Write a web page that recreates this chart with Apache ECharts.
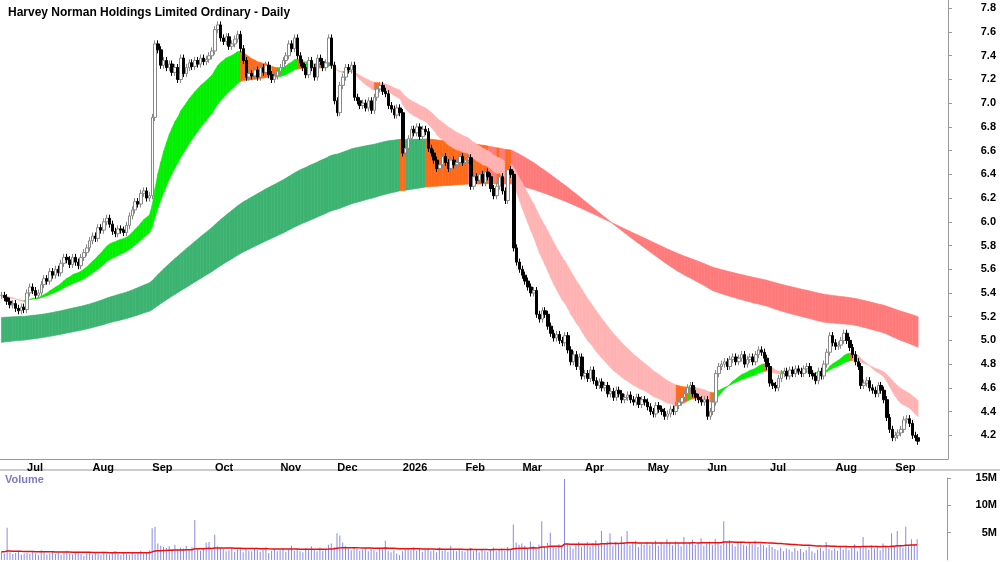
<!DOCTYPE html>
<html><head><meta charset="utf-8">
<script src="https://cdn.jsdelivr.net/npm/echarts@6/dist/echarts.min.js"></script>
<style>html,body{margin:0;padding:0;background:#fff}#main{width:1000px;height:562px}</style>
</head><body><div id="main"></div>
<script>
// closing prices by month
const closeJun25 = [5.38,5.36,5.33,5.30,5.31,5.27,5.25,5.28,5.26];
const closeJul25 = [5.40,5.45,5.42,5.38,5.40,5.47,5.52,5.50,5.58,5.55,5.60,5.57,5.65,5.70,5.68,5.64,5.70,5.66,5.63,5.70,5.74,5.78,5.84];
const closeAug25 = [5.88,5.86,5.95,5.93,6.00,6.03,5.98,5.92,5.90,5.94,5.93,5.91,5.97,6.05,6.10,6.17,6.15,6.24,6.26,6.20,6.22];
const closeSep25 = [6.88,7.50,7.45,7.32,7.36,7.30,7.33,7.26,7.30,7.20,7.38,7.25,7.30,7.34,7.31,7.36,7.33,7.38,7.35,7.37,7.40,7.44];
const closeOct25 = [7.62,7.66,7.55,7.52,7.56,7.48,7.50,7.54,7.58,7.46,7.36,7.22,7.25,7.23,7.28,7.22,7.30,7.26,7.32,7.24,7.20,7.23,7.27];
const closeNov25 = [7.30,7.36,7.40,7.50,7.46,7.55,7.40,7.34,7.30,7.24,7.36,7.30,7.22,7.38,7.35,7.30,7.34,7.55,7.32,7.02];
const closeDec25 = [6.92,7.15,7.22,7.30,7.28,7.32,7.05,7.02,6.98,7.00,6.96,7.02,6.94,7.05,7.12,7.15,7.10,7.08,6.98,6.95,6.90,6.96,6.92];
const closeJan26 = [6.58,6.62,6.70,6.78,6.75,6.80,6.72,6.78,6.76,6.62,6.58,6.52,6.45,6.48,6.55,6.50,6.45,6.52,6.48,6.50,6.55,6.50];
const closeFeb26 = [6.52,6.54,6.30,6.38,6.35,6.40,6.33,6.42,6.38,6.28,6.22,6.30,6.38,6.26,6.18,6.44,6.40,5.78,5.66,5.60];
const closeMar26 = [5.55,5.50,5.45,5.40,5.42,5.22,5.18,5.25,5.22,5.12,5.06,5.02,5.05,5.00,4.98,5.04,4.92,4.82,4.88,4.78,4.86,4.70];
const closeApr26 = [4.72,4.68,4.75,4.66,4.62,4.65,4.60,4.62,4.55,4.57,4.52,4.58,4.55,4.50,4.52,4.54,4.50,4.48,4.52,4.46,4.50,4.48];
const closeMay26 = [4.44,4.40,4.38,4.45,4.42,4.40,4.36,4.38,4.42,4.40,4.45,4.48,4.52,4.55,4.60,4.62,4.55,4.52,4.50,4.48,4.50];
const closeJun26 = [4.36,4.40,4.48,4.72,4.78,4.80,4.82,4.78,4.84,4.86,4.82,4.85,4.88,4.80,4.84,4.86,4.82,4.88,4.92,4.90,4.85,4.78];
const closeJul26 = [4.64,4.62,4.60,4.68,4.72,4.74,4.70,4.75,4.72,4.76,4.74,4.72,4.76,4.78,4.72,4.70,4.66,4.74,4.70,4.80,4.90,5.04,4.98];
const closeAug26 = [4.95,4.96,5.00,5.06,5.00,4.94,4.88,4.82,4.78,4.62,4.64,4.66,4.60,4.58,4.55,4.62,4.58,4.50,4.35,4.25,4.18];
const closeSep26 = [4.20,4.22,4.25,4.33,4.34,4.30,4.20,4.18,4.15];

// volume in millions
const volJun25 = [1.5,1.2,5.9,1.4,1.1,1.3,1.6,1.0,1.2];
const volJul25 = [1.3,1.1,1.5,1.2,0.9,1.8,1.4,1.0,1.2,1.6,1.1,1.3,0.9,1.4,1.7,1.2,1.0,1.3,1.5,1.1,0.8,1.2,1.4];
const volAug25 = [1.0,1.3,1.1,0.9,1.5,1.2,1.0,1.4,1.6,1.1,0.9,1.3,1.2,1.0,1.5,1.1,1.3,1.7,1.2,1.4,1.8];
const volSep25 = [5.8,6.1,3.0,2.6,2.4,2.2,2.5,2.0,2.8,1.9,2.3,2.1,2.6,1.8,2.4,7.3,2.0,1.7,2.2,3.2,3.3,1.9];
const volOct25 = [4.6,2.5,2.2,2.0,1.6,1.8,2.3,1.5,1.9,2.1,1.4,2.0,1.7,1.6,2.2,1.8,1.5,1.9,2.4,1.3,1.7,2.0,1.6];
const volNov25 = [1.8,2.1,1.5,1.9,2.6,1.7,2.0,1.6,1.4,2.2,1.8,2.5,1.9,1.6,2.3,1.7,2.0,2.8,3.0,2.4];
const volDec25 = [4.9,4.5,3.2,2.5,2.1,1.8,2.4,2.0,1.7,1.9,2.2,1.6,2.0,1.8,1.5,2.3,1.9,3.5,1.6,1.4,1.8,1.2,0.9];
const volJan26 = [1.6,1.9,2.2,1.8,2.4,1.7,2.0,1.5,1.9,2.1,1.6,1.8,1.4,2.3,1.7,1.9,1.5,2.6,1.8,1.6,2.0,1.7];
const volFeb26 = [1.5,1.8,2.2,1.6,1.9,1.4,2.0,1.7,1.5,1.8,2.3,1.6,1.9,2.1,1.7,2.4,2.0,6.5,3.2,2.8];
const volMar26 = [3.0,2.6,2.2,3.4,2.5,2.0,2.8,7.1,2.4,3.1,5.0,2.6,2.2,2.9,2.4,14.8,3.0,2.5,2.1,2.7,3.3,2.4];
const volApr26 = [2.9,3.3,2.5,3.1,3.6,2.8,5.3,3.0,3.4,4.9,2.6,3.2,2.9,4.3,3.3,5.3,2.7,3.1,3.5,2.4,3.0,2.8];
const volMay26 = [3.3,2.7,3.0,3.5,2.6,3.2,2.9,3.8,3.1,2.7,3.4,3.0,2.5,4.2,2.9,3.3,3.7,2.8,3.1,4.0,2.6];
const volJun26 = [3.0,3.4,2.8,3.9,3.2,2.7,7.1,3.3,3.6,2.9,2.5,3.1,3.4,2.8,2.6,3.2,2.9,3.5,2.4,3.0,2.7,2.3];
const volJul26 = [2.8,2.4,2.0,1.8,2.3,1.6,2.1,1.9,1.5,2.2,1.7,2.0,1.4,1.8,2.5,1.6,1.3,1.9,2.2,1.7,3.3,2.0,1.8];
const volAug26 = [2.1,1.7,2.4,1.9,2.6,1.8,2.2,2.9,1.6,2.3,4.2,2.5,1.9,2.7,2.1,2.4,1.8,3.0,2.6,2.2,4.9];
const volSep26 = [2.4,5.3,2.8,2.2,6.1,2.5,3.8,2.9,3.8];

const monthNames = ['Jan','Feb','Mar','Apr','May','Jun','Jul','Aug','Sep','Oct','Nov','Dec'];

const closes = [].concat(closeJun25,closeJul25,closeAug25,closeSep25,closeOct25,closeNov25,closeDec25,
  closeJan26,closeFeb26,closeMar26,closeApr26,closeMay26,closeJun26,closeJul26,closeAug26,closeSep26);
const volumes = [].concat(volJun25,volJul25,volAug25,volSep25,volOct25,volNov25,volDec25,
  volJan26,volFeb26,volMar26,volApr26,volMay26,volJun26,volJul26,volAug26,volSep26);

// trading days (weekdays) from 18 Jun 2025, a few empty days after the last bar
const dates = [];
let d = new Date(Date.UTC(2025,5,18));
while (dates.length < closes.length + 10) {
  const wd = d.getUTCDay();
  if (wd !== 0 && wd !== 6) dates.push(d.toISOString().slice(0,10));
  d = new Date(d.getTime() + 86400000);
}
const firstOfMonth = dates.map((s,i) => i === 0 ? false : s.slice(5,7) !== dates[i-1].slice(5,7));

const candles = closes.map((c,i) => {
  const o = i === 0 ? c : closes[i-1];
  return [o, c, Math.min(o,c) - 0.03, Math.max(o,c) + 0.03];
});

function ema(arr, n, seed) {
  const k = 2/(n+1); let e = seed;
  return arr.map(v => (e = e + k*(v-e)));
}
const fastA = ema(closes, 18, 5.38), fastB = ema(closes, 36, 5.36);
const slowA = ema(closes, 150, 5.19), slowB = ema(closes, 250, 4.98);

function bandSegs(a, b, cols) {
  const out = [];
  for (let i = 0; i < a.length - 1; i++) {
    const ua = a[i+1] > a[i], ub = b[i+1] > b[i];
    const col = ua && ub ? cols[0] : (!ua && !ub ? cols[2] : cols[1]);
    out.push({value:[i, a[i], b[i], a[i+1], b[i+1]], itemStyle:{color:col}});
  }
  return out;
}
const fastSegs = bandSegs(fastA, fastB, ['#00f000','#ff6a1a','#ffb3b3']);
const slowSegs = bandSegs(slowA, slowB, ['#3cb371','#ff6a1a','#ff7b7b']);

function renderBand(params, api) {
  const i = api.value(0);
  const p1 = api.coord([i, api.value(1)]), p2 = api.coord([i+1, api.value(3)]);
  const p3 = api.coord([i+1, api.value(4)]), p4 = api.coord([i, api.value(2)]);
  return {type:'polygon', shape:{points:[p1,p2,p3,p4]},
    style:{fill:api.visual('color'), stroke:api.visual('color'), lineWidth:0.6}};
}

// volume moving average, started from the level shown at the left edge
const volMA = ema(volumes, 60, 1.5).map(v => +v.toFixed(3));

const font = 'Liberation Sans';
const myChart = echarts.init(document.getElementById('main'));
myChart.setOption({
  animation:false,
  textStyle:{fontFamily:font},
  title:{text:'Harvey Norman Holdings Limited Ordinary - Daily', left:3, top:2,
    textStyle:{fontSize:12, fontWeight:'bold', color:'#000', fontFamily:font}},
  graphic:[
    {type:'text', left:5, top:474, style:{text:'Volume', fill:'#7b7bc8', font:'bold 11px '+font}},
    {type:'line', shape:{x1:0,y1:470,x2:1000,y2:470}, style:{stroke:'#999', lineWidth:1}}
  ],
  grid:[
    {left:0, right:52, top:0, height:459},
    {left:0, right:52, top:478, bottom:2}
  ],
  xAxis:[
    {type:'category', gridIndex:0, data:dates,
     axisLine:{lineStyle:{color:'#999'}},
     axisTick:{interval:(i)=>firstOfMonth[i], length:4, lineStyle:{color:'#666'}},
     axisLabel:{interval:(i)=>firstOfMonth[i], align:'left', margin:3, fontSize:11, fontWeight:'bold', color:'#000',
       formatter:(s)=>s.slice(5,7)==='01' ? s.slice(0,4) : monthNames[+s.slice(5,7)-1]},
     splitLine:{show:false}},
    {type:'category', gridIndex:1, data:dates, axisLine:{show:false}, axisTick:{show:false}, axisLabel:{show:false}}
  ],
  yAxis:[
    {type:'value', gridIndex:0, position:'right', min:4.0, max:7.87, interval:0.2,
     axisLine:{show:true, lineStyle:{color:'#999'}}, axisTick:{show:true, length:4, lineStyle:{color:'#999'}},
     axisLabel:{showMinLabel:false, showMaxLabel:false, fontSize:11, fontWeight:'bold', color:'#000', margin:48, align:'right',
       formatter:(v)=>v.toFixed(1)},
     splitLine:{show:false}},
    {type:'value', gridIndex:1, position:'right', min:0, max:15, interval:5,
     axisLine:{show:true, lineStyle:{color:'#999'}}, axisTick:{show:true, length:4, lineStyle:{color:'#999'}},
     axisLabel:{showMinLabel:false, fontSize:11, fontWeight:'bold', color:'#000', margin:50, align:'right', formatter:(v)=>v+'M'},
     splitLine:{show:false}}
  ],
  series:[
    {type:'custom', xAxisIndex:0, yAxisIndex:0, renderItem:renderBand, data:slowSegs, z:1, encode:{x:0,y:[1,2,3,4]}},
    {type:'custom', xAxisIndex:0, yAxisIndex:0, renderItem:renderBand, data:fastSegs, z:2, encode:{x:0,y:[1,2,3,4]}},
    {type:'candlestick', xAxisIndex:0, yAxisIndex:0, data:candles, barWidth:3, z:5,
     itemStyle:{color:'#ffffff', color0:'#000000', borderColor:'#888888', borderColor0:'#000000', borderWidth:1}},
    {type:'bar', xAxisIndex:1, yAxisIndex:1, data:volumes, barWidth:1, itemStyle:{color:'#8a8ae6'}},
    {type:'line', xAxisIndex:1, yAxisIndex:1, data:volMA, symbol:'none', lineStyle:{color:'#e81010', width:1.5}}
  ]
});
</script></body></html>
